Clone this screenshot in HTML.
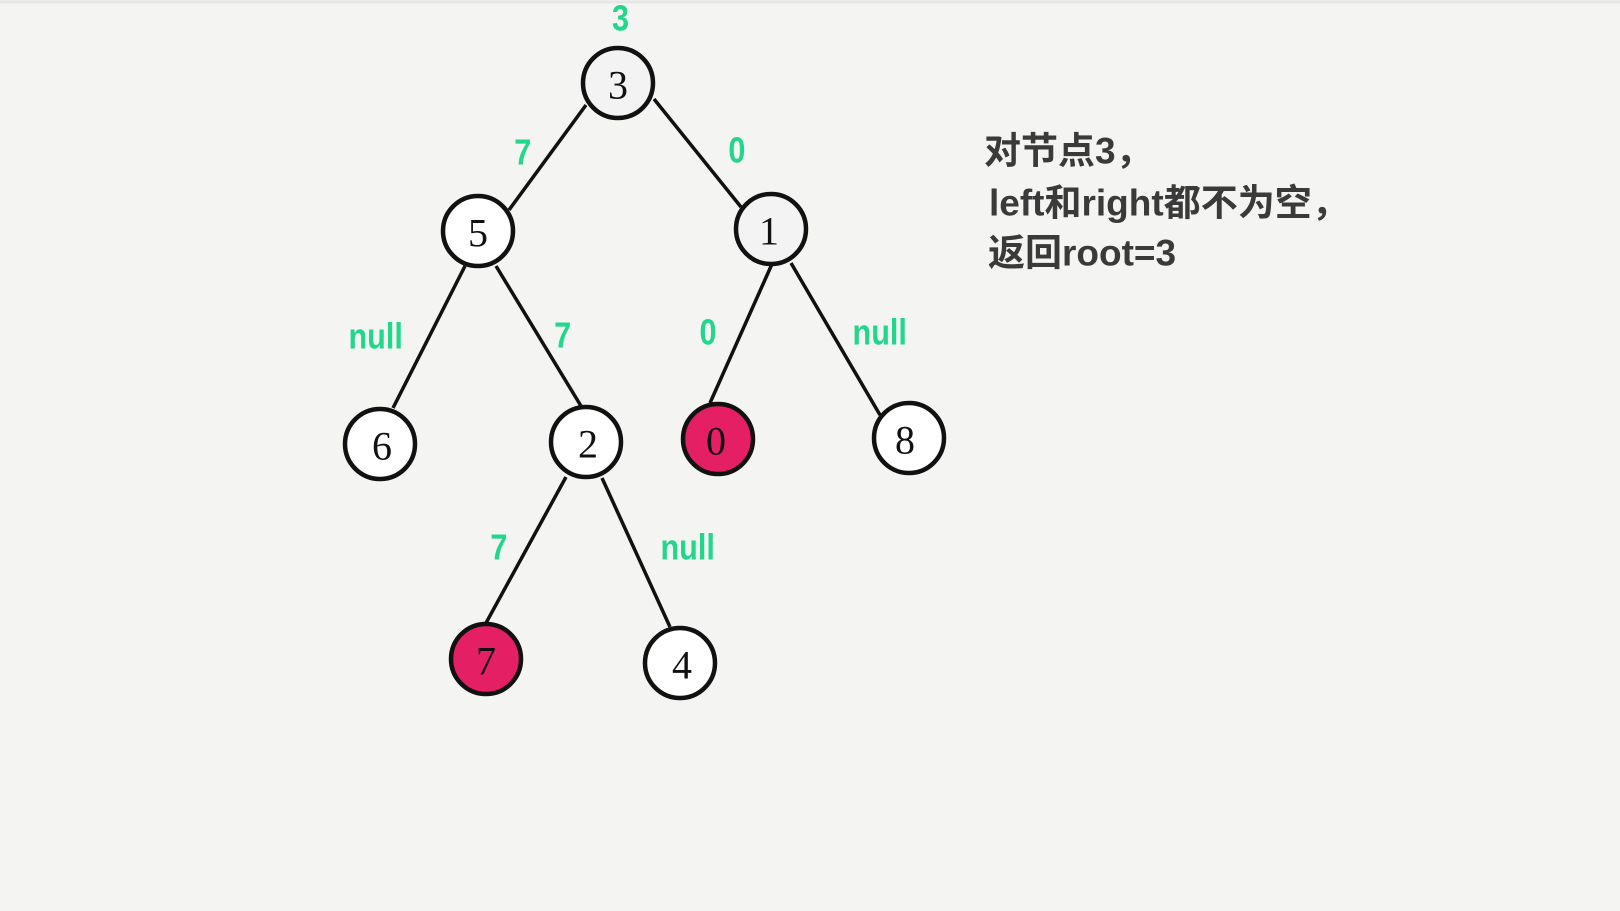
<!DOCTYPE html>
<html><head><meta charset="utf-8"><style>
html,body{margin:0;padding:0;background:#f4f4f2;}
svg{display:block}
.g{fill:#22d68c;font-family:"Liberation Sans",sans-serif;font-weight:bold;font-size:36px;text-anchor:middle;dominant-baseline:central}
.n{font-family:"Liberation Serif",serif;font-size:40px;text-anchor:middle;dominant-baseline:central;fill:#111}
.t{fill:#3a3a3a;font-family:"Liberation Sans","Noto Sans CJK SC",sans-serif;font-weight:bold;font-size:37px;dominant-baseline:central}
</style></head><body>
<svg width="1620" height="911" viewBox="0 0 1620 911">
<rect width="1620" height="911" fill="#f4f4f2"/>
<line x1="0" y1="2" x2="1620" y2="2" stroke="#e6e6e6" stroke-width="3"/>
<g stroke="#111" stroke-width="3.5">
<line x1="586" y1="105" x2="509" y2="210"/>
<line x1="654" y1="99" x2="741" y2="207"/>
<line x1="465" y1="266" x2="393" y2="408"/>
<line x1="496" y1="266" x2="581" y2="406"/>
<line x1="772" y1="264" x2="710" y2="403"/>
<line x1="791" y1="263" x2="880" y2="415"/>
<line x1="566" y1="477" x2="486" y2="623"/>
<line x1="602" y1="478" x2="670" y2="627"/>
</g>
<g stroke="#111" stroke-width="4.5">
<circle cx="618" cy="83" r="35" fill="#f3f3f3"/>
<circle cx="478" cy="231" r="35" fill="#fff"/>
<circle cx="771" cy="229" r="35" fill="#f3f3f3"/>
<circle cx="380" cy="444" r="35" fill="#fff"/>
<circle cx="586" cy="442" r="35" fill="#fff"/>
<circle cx="718" cy="439" r="35" fill="#e51f63"/>
<circle cx="909" cy="438" r="35" fill="#fff"/>
<circle cx="486" cy="659" r="35" fill="#e51f63"/>
<circle cx="680" cy="663" r="35" fill="#fff"/>
</g>
<text class="n" x="618" y="85">3</text>
<text class="n" x="478" y="233">5</text>
<text class="n" x="769" y="231">1</text>
<text class="n" x="382" y="446">6</text>
<text class="n" x="588" y="444">2</text>
<text class="n" x="716" y="441">0</text>
<text class="n" x="905" y="440">8</text>
<text class="n" x="486" y="661">7</text>
<text class="n" x="682" y="665">4</text>
<g transform="scale(0.85,1)">
<text class="g" x="730" y="19">3</text>
<text class="g" x="615" y="153">7</text>
<text class="g" x="867" y="151">0</text>
<text class="g" x="442" y="337">null</text>
<text class="g" x="662" y="336">7</text>
<text class="g" x="833" y="333">0</text>
<text class="g" x="1035" y="333">null</text>
<text class="g" x="587" y="548">7</text>
<text class="g" x="809" y="548">null</text>
</g>
<text class="t" x="984" y="151">对节点3，</text>
<text class="t" x="989" y="203">left和right都不为空，</text>
<text class="t" x="988" y="253">返回root=3</text>
</svg>
</body></html>
